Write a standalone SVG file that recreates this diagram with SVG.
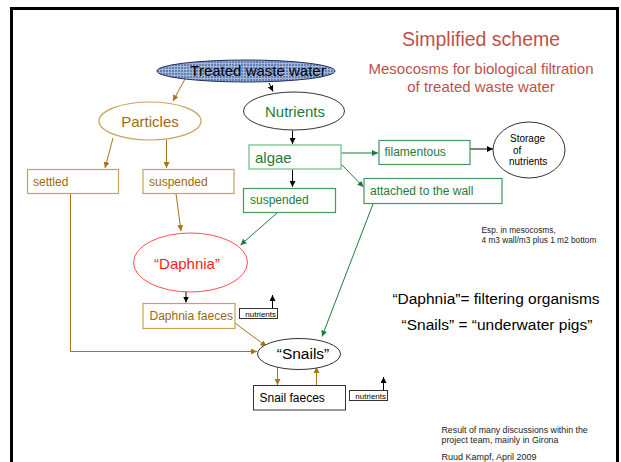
<svg xmlns="http://www.w3.org/2000/svg" width="621" height="462" viewBox="0 0 621 462">
<style>
text{font-family:"Liberation Sans",Arial,sans-serif}
.br{fill:#9c6a12}
.gr{fill:#1f7a3a}
.bk{fill:#000}
.bbox{fill:#fff;stroke:#c9a15a;stroke-width:1.2}
.gbox{fill:#fff;stroke:#3f9a5e;stroke-width:1.2}
.lbox{fill:#fff;stroke:#8cc79b;stroke-width:1.5}
.kbox{fill:#fff;stroke:#333;stroke-width:1}
.cb{fill:none;stroke:#a87416;stroke-width:1;marker-end:url(#ab)}
.cg{fill:none;stroke:#1e7a3a;stroke-width:1;marker-end:url(#ag)}
.ck{fill:none;stroke:#000;stroke-width:1;marker-end:url(#ak)}
</style>
<defs>
<marker id="ab" viewBox="0 0 6 6" refX="6" refY="3" markerWidth="6" markerHeight="6" markerUnits="userSpaceOnUse" orient="auto"><path d="M0,0 L6,3 L0,6 z" fill="#a87416"/></marker>
<marker id="ag" viewBox="0 0 6 6" refX="6" refY="3" markerWidth="6" markerHeight="6" markerUnits="userSpaceOnUse" orient="auto"><path d="M0,0 L6,3 L0,6 z" fill="#1e7a3a"/></marker>
<marker id="ak" viewBox="0 0 6 6" refX="6" refY="3" markerWidth="6" markerHeight="6" markerUnits="userSpaceOnUse" orient="auto"><path d="M0,0 L6,3 L0,6 z" fill="#000"/></marker>
<pattern id="chk" width="3" height="3" patternUnits="userSpaceOnUse">
<rect width="3" height="3" fill="#6281b6"/>
<path d="M0,0.5 H3 M0.5,0 V3" stroke="#a3b6d8" stroke-width="1"/>
</pattern>
</defs>
<rect x="0" y="0" width="621" height="462" fill="#fff"/>
<rect x="11.5" y="8.5" width="606" height="470" fill="none" stroke="#000" stroke-width="3"/>

<g id="title">
<text x="481" y="45.5" font-size="19.5" fill="#c0504d" text-anchor="middle">Simplified scheme</text>
<text x="481" y="74" font-size="15" fill="#c0504d" text-anchor="middle">Mesocosms for biological filtration</text>
<text x="481" y="92" font-size="15" fill="#c0504d" text-anchor="middle">of treated waste water</text>
</g>

<g id="connectors">
<path class="cb" d="M185,79 L173,101"/>
<path class="ck" d="M269,83 L273,91.5"/>
<path class="cb" d="M113,138 L105,168"/>
<path class="cb" d="M166.5,140 L166.5,168"/>
<path class="ck" d="M292.5,130.5 L292.5,144"/>
<path class="ck" d="M292.5,169.5 L292.5,187"/>
<path class="cg" d="M341,153 L378,153"/>
<path class="ck" d="M470,149 L493,149" stroke-width="1.6"/>
<path class="cg" d="M341,164 L363.5,187"/>
<path class="cb" d="M176,193.5 L181,231"/>
<path class="cg" d="M277,213 L240.5,245"/>
<path class="ck" d="M186,289 L186,302.5"/>
<path class="ck" d="M272.5,308 L272.5,295"/>
<path class="cb" d="M235,323 L266.5,346.5"/>
<path class="cb" d="M70.5,193.5 L70.5,351.5 L257,351.5"/>
<path class="cg" d="M373,204 L322,336.5"/>
<path class="cb" d="M277.5,367 L277.5,385"/>
<path class="cb" d="M316.5,385.5 L316.5,367"/>
<path class="ck" d="M383.5,390.5 L383.5,377"/>
</g>

<g id="treated">
<ellipse cx="246" cy="71" rx="89" ry="11" fill="url(#chk)" stroke="#1f2f5f" stroke-width="1"/>
<text x="258" y="76" font-size="15" class="bk" text-anchor="middle">Treated waste water</text>
</g>
<g id="particles">
<ellipse cx="150" cy="121" rx="51" ry="19" fill="#fff" stroke="#c9a15a" stroke-width="1.2"/>
<text x="150" y="127" font-size="15" class="br" text-anchor="middle">Particles</text>
</g>
<g id="nutrients">
<ellipse cx="294" cy="111" rx="50.5" ry="19" fill="#fff" stroke="#333" stroke-width="1"/>
<text x="295" y="117" font-size="15" class="gr" text-anchor="middle">Nutrients</text>
</g>
<g id="settled">
<rect class="bbox" x="27.5" y="169.5" width="91" height="24"/>
<text x="33" y="185.5" font-size="12" class="br">settled</text>
</g>
<g id="suspended-particles">
<rect class="bbox" x="143" y="169.5" width="91" height="24"/>
<text x="149" y="185.5" font-size="12" class="br">suspended</text>
</g>
<g id="algae">
<rect class="lbox" x="249" y="145" width="92" height="24"/>
<text x="255" y="162.5" font-size="15" class="gr">algae</text>
</g>
<g id="suspended-algae">
<rect class="gbox" x="243.5" y="188.5" width="92" height="24"/>
<text x="250" y="204" font-size="12" class="gr">suspended</text>
</g>
<g id="filamentous">
<rect class="gbox" x="379" y="140.5" width="91" height="24"/>
<text x="384.5" y="156" font-size="12" class="gr">filamentous</text>
</g>
<g id="storage">
<ellipse cx="529" cy="150" rx="36" ry="28" fill="#fff" stroke="#333" stroke-width="1"/>
<text x="510" y="141.5" font-size="10" class="bk">Storage</text>
<text x="513" y="153.5" font-size="10" class="bk">of</text>
<text x="509" y="165" font-size="10" class="bk">nutrients</text>
</g>
<g id="attached">
<rect class="gbox" x="364" y="178.5" width="138" height="25"/>
<text x="370" y="195" font-size="12" class="gr">attached to the wall</text>
</g>
<g id="daphnia">
<ellipse cx="190.5" cy="262.5" rx="57" ry="29.5" fill="#fff" stroke="#ff5050" stroke-width="1"/>
<text x="187" y="268.5" font-size="15" fill="#ff1a1a" text-anchor="middle">“Daphnia”</text>
</g>
<g id="daphnia-faeces">
<rect class="bbox" x="143" y="303.5" width="92" height="25"/>
<text x="149.5" y="320" font-size="12" class="br">Daphnia faeces</text>
</g>
<g id="nutrients-1">
<rect x="239.5" y="308.5" width="38" height="10" fill="#fff" stroke="#333" stroke-width="1"/>
<text x="276" y="316.7" font-size="8" class="bk" text-anchor="end">nutrients</text>
</g>
<g id="snails">
<ellipse cx="299" cy="354" rx="41.5" ry="15.5" fill="#fff" stroke="#333" stroke-width="1"/>
<text x="303" y="358.5" font-size="15.5" class="bk" text-anchor="middle">“Snails”</text>
</g>
<g id="snail-faeces">
<rect class="kbox" x="253.5" y="385.5" width="92" height="24.5"/>
<text x="259.5" y="401.7" font-size="12" class="bk">Snail faeces</text>
</g>
<g id="nutrients-2">
<rect x="349.5" y="390.5" width="38" height="10" fill="#fff" stroke="#333" stroke-width="1"/>
<text x="386" y="398.7" font-size="8" class="bk" text-anchor="end">nutrients</text>
</g>

<g id="notes">
<text x="481.5" y="232.5" font-size="8.3" fill="#222">Esp. in mesocosms,</text>
<text x="481.5" y="242.5" font-size="8.3" fill="#222">4 m3 wall/m3 plus 1 m2 bottom</text>
<text x="496" y="303.5" font-size="15.5" class="bk" text-anchor="middle">“Daphnia”= filtering organisms</text>
<text x="497" y="330" font-size="15.5" class="bk" text-anchor="middle">“Snails” = “underwater pigs”</text>
<text x="441.5" y="433.3" font-size="8.8" fill="#222">Result of many discussions within the</text>
<text x="441.5" y="443" font-size="8.8" fill="#222">project team, mainly in Girona</text>
<text x="441.5" y="460" font-size="9" fill="#222">Ruud Kampf, April 2009</text>
</g>
</svg>
